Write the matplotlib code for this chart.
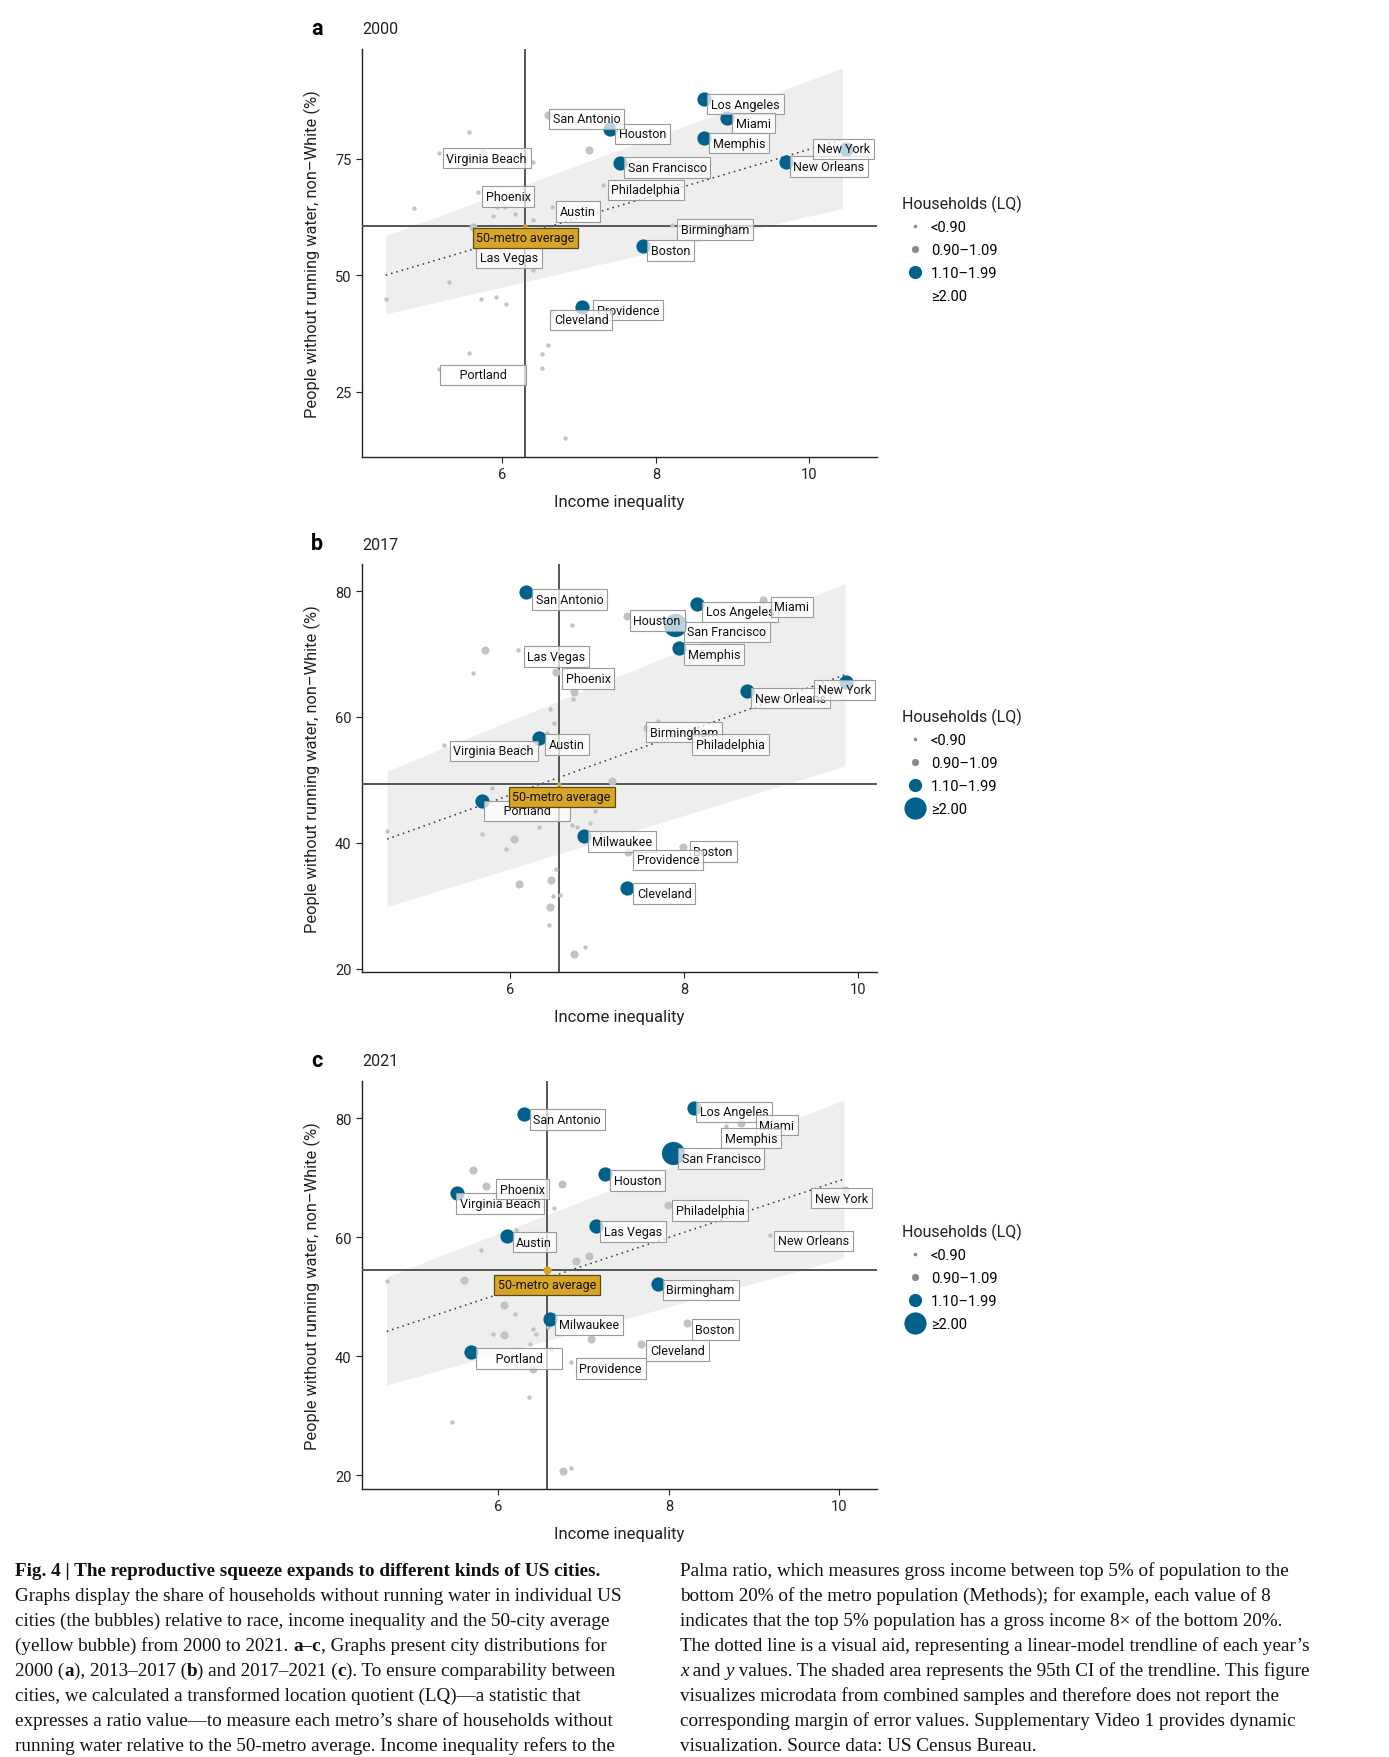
import matplotlib.pyplot as plt
from matplotlib.lines import Line2D

plt.rcParams['font.family'] = ['Roboto', 'DejaVu Sans']

W, H = 1389, 1758

# ---- data: panel a, 2000 ----
a_city = ['Los Angeles', 'Miami', 'Houston', 'Memphis', 'San Francisco', 'New Orleans',
          'New York', 'Boston', 'Providence', 'San Antonio', 'Virginia Beach', 'Philadelphia',
          'Phoenix', 'Austin', 'Birmingham', 'Las Vegas', 'Cleveland', 'Portland']
a_x = [8.62, 8.93, 7.40, 8.63, 7.53, 9.69, 10.48, 7.83, 7.04, 6.59, 5.17, 7.31,
       5.68, 6.64, 8.21, 5.70, 6.64, 5.17]
a_y = [87.7, 83.8, 81.4, 79.5, 74.1, 74.2, 77.0, 56.3, 43.2, 84.3, 76.2, 69.3,
       67.9, 64.7, 60.8, 55.6, 42.0, 29.8]
a_lq = [2, 2, 2, 2, 2, 2, 2, 2, 2, 1, 0, 0, 0, 0, 0, 0, 0, 0]
a_other_x = [7.13, 5.75, 5.62, 5.56, 5.41, 6.40, 4.85, 5.93, 6.03, 5.88, 6.16, 6.40, 6.40,
             5.31, 4.48, 5.72, 5.91, 6.04, 6.59, 6.51, 5.57, 6.52, 6.81]
a_other_y = [76.9, 76.1, 60.4, 80.8, 73.4, 74.3, 64.5, 64.7, 64.7, 62.7, 63.1, 61.9, 51.0,
             48.5, 44.9, 44.9, 45.3, 43.8, 35.1, 33.1, 33.4, 30.0, 15.0]
a_other_lq = [1, 1, 1] + [0] * 20
a_avg = [6.30, 60.6]
a_trend_x = [4.48, 10.43]
a_trend_y = [50.0, 79.1]
a_ci_lo = [41.7, 64.3]
a_ci_hi = [58.5, 94.4]

# ---- data: panel b, 2013-2017 ----
b_city = ['San Antonio', 'Los Angeles', 'Memphis', 'New Orleans', 'New York', 'Austin',
          'Portland', 'Milwaukee', 'Cleveland', 'San Francisco', 'Houston', 'Miami',
          'Phoenix', 'Birmingham', 'Boston', 'Providence', 'Las Vegas', 'Virginia Beach',
          'Philadelphia']
b_x = [6.19, 8.15, 7.94, 8.73, 9.86, 6.34, 5.68, 6.85, 7.35, 7.90, 7.35, 8.91,
       6.53, 7.58, 7.99, 7.36, 6.09, 5.24, 7.70]
b_y = [79.9, 77.9, 70.9, 64.2, 65.6, 56.6, 46.6, 41.1, 32.9, 74.6, 76.1, 78.6,
       67.1, 58.3, 39.4, 38.5, 70.6, 55.5, 59.3]
b_lq = [2, 2, 2, 2, 2, 2, 2, 2, 2, 3, 1, 1, 1, 1, 1, 1, 0, 0, 0]
b_other_x = [5.71, 6.74, 7.17, 6.05, 6.11, 6.47, 6.46, 6.74,
             6.71, 5.58, 6.73, 6.46, 6.51, 6.43, 5.80, 6.98, 6.92, 6.71, 6.77, 6.34,
             4.59, 5.68, 5.95, 6.53, 6.50, 6.58, 6.45, 6.86]
b_other_y = [70.6, 64.0, 49.8, 40.7, 33.5, 34.1, 29.9, 22.4,
             74.6, 67.0, 62.9, 61.3, 59.1, 57.5, 48.7, 45.1, 43.2, 42.8, 42.5, 42.6,
             41.9, 41.4, 39.0, 35.8, 31.6, 31.8, 27.0, 23.4]
b_other_lq = [1] * 8 + [0] * 20
b_avg = [6.56, 49.3]
b_trend_x = [4.59, 9.85]
b_trend_y = [40.6, 66.7]
b_ci_lo = [29.9, 52.2]
b_ci_hi = [51.4, 81.2]

# ---- data: panel c, 2017-2021 ----
c_city = ['San Antonio', 'Los Angeles', 'Houston', 'Virginia Beach', 'Las Vegas', 'Austin',
          'Birmingham', 'Milwaukee', 'Portland', 'San Francisco', 'Miami', 'Philadelphia',
          'New York', 'Cleveland', 'Boston', 'Phoenix', 'Memphis', 'New Orleans', 'Providence']
c_x = [6.30, 8.29, 7.25, 5.52, 7.15, 6.10, 7.87, 6.61, 5.68, 8.05, 8.85, 7.99,
       10.06, 7.67, 8.21, 5.85, 8.67, 9.18, 6.85]
c_y = [80.8, 81.8, 70.6, 67.4, 62.0, 60.2, 52.2, 46.3, 40.7, 74.2, 79.3, 65.5,
       67.9, 42.1, 45.6, 68.6, 78.7, 60.4, 39.0]
c_lq = [2, 2, 2, 2, 2, 2, 2, 2, 2, 3, 1, 1, 1, 1, 1, 1, 0, 0, 0]
c_other_x = [5.70, 6.74, 6.91, 7.06, 5.60, 6.07, 6.06, 7.08, 6.40, 6.76,
             6.65, 6.21, 5.79, 4.69, 6.20, 6.58, 5.94, 6.40, 6.44, 6.37, 6.62, 6.21,
             6.36, 5.46, 6.85]
c_other_y = [71.4, 69.0, 56.0, 56.8, 52.9, 48.6, 43.6, 42.9, 37.9, 20.7,
             64.9, 61.2, 57.9, 52.7, 47.2, 45.0, 43.7, 44.6, 43.8, 42.1, 41.2, 38.3,
             33.2, 29.0, 21.3]
c_other_lq = [1] * 10 + [0] * 15
c_avg = [6.57, 54.5]
c_trend_x = [4.69, 10.05]
c_trend_y = [44.2, 69.8]
c_ci_lo = [35.2, 56.5]
c_ci_hi = [53.4, 83.1]

lq_labels = ['<0.90', '0.90\u20131.09', '1.10\u20131.99', '\u22652.00']

# ---- layout / style ----
BLUE = '#00628a'
GREY = '#c2c2c2'
GOLD = '#d9a527'
sizes = [10, 34, 105, 280]
pt_colors = [GREY, GREY, BLUE, BLUE]

# label boxes: left edge / centre in data units
labels_a = {'San Antonio': (6.63, 83.5), 'Houston': (7.49, 80.3), 'Los Angeles': (8.69, 86.7),
            'Miami': (9.01, 82.6), 'Memphis': (8.71, 78.3), 'New York': (10.07, 77.1),
            'New Orleans': (9.76, 73.3), 'Virginia Beach': (5.24, 75.1),
            'San Francisco': (7.60, 73.1), 'Philadelphia': (7.39, 68.3),
            'Phoenix': (5.75, 66.9), 'Austin': (6.72, 63.7), 'Birmingham': (8.29, 59.8),
            'Las Vegas': (5.68, 53.8), 'Boston': (7.90, 55.3), 'Providence': (7.20, 42.5),
            'Cleveland': (6.64, 40.4), 'Portland': (5.21, 28.6)}
labels_b = {'San Antonio': (6.27, 78.7), 'Los Angeles': (8.22, 76.7), 'Miami': (9.01, 77.5),
            'Houston': (7.39, 75.3), 'San Francisco': (8.01, 73.5), 'Memphis': (8.02, 69.9),
            'Las Vegas': (6.17, 69.6), 'Phoenix': (6.61, 66.1), 'New York': (9.51, 64.3),
            'New Orleans': (8.79, 63.0), 'Birmingham': (7.58, 57.6),
            'Philadelphia': (8.11, 55.6), 'Virginia Beach': (5.32, 54.6),
            'Austin': (6.42, 55.6), 'Portland': (5.72, 45.1), 'Milwaukee': (6.91, 40.2),
            'Boston': (8.08, 38.6), 'Providence': (7.43, 37.3), 'Cleveland': (7.43, 32.0)}
labels_c = {'San Antonio': (6.38, 79.8), 'Los Angeles': (8.33, 81.1), 'Miami': (9.03, 78.9),
            'Memphis': (8.63, 76.7), 'San Francisco': (8.12, 73.3), 'Houston': (7.32, 69.6),
            'Phoenix': (5.99, 68.1), 'Virginia Beach': (5.52, 65.7), 'New York': (9.68, 66.6),
            'Philadelphia': (8.05, 64.5), 'Las Vegas': (7.21, 61.0), 'Austin': (6.18, 59.2),
            'New Orleans': (9.25, 59.4), 'Birmingham': (7.94, 51.2), 'Milwaukee': (6.68, 45.3),
            'Boston': (8.28, 44.5), 'Cleveland': (7.75, 41.0), 'Portland': (5.75, 39.6),
            'Providence': (6.92, 38.0)}
avg_label = {'a': (5.63, 58.0), 'b': (6.00, 47.3), 'c': (5.96, 52.0)}

fig = plt.figure(figsize=(W / 100, H / 100), dpi=100)
cap = fig.add_axes([0, 0, 1, 1])
cap.axis('off')


def panel(key, top, year, city, xs, ys, lq, ox, oy, olq, avg, avg_lq,
          tx, ty, lo, hi, xlim, ylim, yticks, labels, leg_top, show_big):
    ax = fig.add_axes([362 / W, 1 - (top + 408) / H, 515 / W, 408 / H])
    ax.fill_between(tx, lo, hi, color='#eeeeee', lw=0, zorder=1)
    ax.plot(tx, ty, color='#333333', lw=1.1, ls=(0, (1, 2.6)), zorder=2)
    ax.axvline(avg[0], color='#555555', lw=1.4, zorder=3)
    ax.axhline(avg[1], color='#555555', lw=1.4, zorder=3)

    allx = ox + xs
    ally = oy + ys
    alllq = olq + lq
    for cat in range(4):
        px = [x for x, c in zip(allx, alllq) if c == cat]
        py = [y for y, c in zip(ally, alllq) if c == cat]
        if px:
            ax.scatter(px, py, s=sizes[cat], color=pt_colors[cat], lw=0, zorder=4 + cat * 0.1)
    ax.scatter([avg[0]], [avg[1]], s=sizes[avg_lq], color=GOLD, lw=0, zorder=5)

    box = dict(boxstyle='square,pad=0.3', fc=(1, 1, 1, 0.72), ec='#9a9a9a', lw=0.8)
    for name in city:
        lx, ly = labels[name]
        txt = '     ' + name + '     ' if name == 'Portland' else name
        ax.text(lx + 0.03, ly, txt, fontsize=9, ha='left', va='center', color='#111111',
                bbox=box, zorder=6)
    lx, ly = avg_label[key]
    ax.text(lx + 0.03, ly, '50-metro average', fontsize=9, ha='left', va='center',
            color='#111111', zorder=6,
            bbox=dict(boxstyle='square,pad=0.3', fc=GOLD, ec='#5a4a18', lw=0.9))

    ax.set_xlim(xlim)
    ax.set_ylim(ylim)
    ax.set_xticks([6, 8, 10])
    ax.set_yticks(yticks)
    for s in ['top', 'right']:
        ax.spines[s].set_visible(False)
    for s in ['left', 'bottom']:
        ax.spines[s].set_color('#222222')
        ax.spines[s].set_linewidth(1.0)
    ax.tick_params(labelsize=10.5, length=4, width=0.8, color='#222222', labelcolor='#222222')
    ax.set_xlabel('Income inequality', fontsize=12, labelpad=9, color='#222222')
    ax.set_ylabel('People without running water, non\u2013White (%)', fontsize=11.8,
                  labelpad=10, color='#222222')

    fig.text(311 / W, 1 - (top - 21) / H, key, fontsize=15.5, fontweight='bold', va='center')
    fig.text(362 / W, 1 - (top - 20) / H, year, fontsize=11.5, va='center', color='#222222')

    # legend
    fig.text(902 / W, 1 - leg_top / H, 'Households (LQ)', fontsize=11.5, va='center',
             color='#222222')
    ms = [2.6, 5.2, 9.5, 16]
    cols = ['#8a8a8a', '#8a8a8a', BLUE, BLUE if show_big else 'none']
    handles = [Line2D([], [], ls='none', marker='o', markersize=ms[i], color=cols[i],
                      markeredgewidth=0) for i in range(4)]
    ax.legend(handles, lq_labels, loc='upper left', frameon=False, fontsize=10.5,
              bbox_to_anchor=(906 / W, 1 - (leg_top + 17) / H), bbox_transform=fig.transFigure,
              borderpad=0, handlelength=1.2, handletextpad=0.5, labelspacing=0.62,
              borderaxespad=0)
    return ax


panel('a', 50, '2000', a_city, a_x, a_y, a_lq, a_other_x, a_other_y, a_other_lq, a_avg, 0,
      a_trend_x, a_trend_y, a_ci_lo, a_ci_hi, (4.17, 10.88), (11, 98.5), [25, 50, 75],
      labels_a, 204, False)
panel('b', 565, '2017', b_city, b_x, b_y, b_lq, b_other_x, b_other_y, b_other_lq, b_avg, 0,
      b_trend_x, b_trend_y, b_ci_lo, b_ci_hi, (4.30, 10.22), (19.5, 84.3), [20, 40, 60, 80],
      labels_b, 717, True)
panel('c', 1082, '2021', c_city, c_x, c_y, c_lq, c_other_x, c_other_y, c_other_lq, c_avg, 1,
      c_trend_x, c_trend_y, c_ci_lo, c_ci_hi, (4.40, 10.44), (17.7, 86.3), [20, 40, 60, 80],
      labels_c, 1232, True)

# ---- caption ----
left_col = [
    [('Fig. 4 | The reproductive squeeze expands to different kinds of US cities.', 'bold', 'normal')],
    [('Graphs display the share of households without running water in individual US', 'normal', 'normal')],
    [('cities (the bubbles) relative to race, income inequality and the 50-city average', 'normal', 'normal')],
    [('(yellow bubble) from 2000 to 2021. ', 'normal', 'normal'), ('a\u2013c', 'bold', 'normal'),
     (', Graphs present city distributions for', 'normal', 'normal')],
    [('2000 (', 'normal', 'normal'), ('a', 'bold', 'normal'), ('), 2013\u20132017 (', 'normal', 'normal'),
     ('b', 'bold', 'normal'), (') and 2017\u20132021 (', 'normal', 'normal'), ('c', 'bold', 'normal'),
     ('). To ensure comparability between', 'normal', 'normal')],
    [('cities, we calculated a transformed location quotient (LQ)\u2014a statistic that', 'normal', 'normal')],
    [('expresses a ratio value\u2014to measure each metro\u2019s share of households without', 'normal', 'normal')],
    [('running water relative to the 50-metro average. Income inequality refers to the', 'normal', 'normal')],
]
right_col = [
    [('Palma ratio, which measures gross income between top 5% of population to the', 'normal', 'normal')],
    [('bottom 20% of the metro population (Methods); for example, each value of 8', 'normal', 'normal')],
    [('indicates that the top 5% population has a gross income 8\u00d7 of the bottom 20%.', 'normal', 'normal')],
    [('The dotted line is a visual aid, representing a linear-model trendline of each year\u2019s', 'normal', 'normal')],
    [('x', 'normal', 'italic'), (' and ', 'normal', 'normal'), ('y', 'normal', 'italic'),
     (' values. The shaded area represents the 95th CI of the trendline. This figure', 'normal', 'normal')],
    [('visualizes microdata from combined samples and therefore does not report the', 'normal', 'normal')],
    [('corresponding margin of error values. Supplementary Video 1 provides dynamic', 'normal', 'normal')],
    [('visualization. Source data: US Census Bureau.', 'normal', 'normal')],
]


def rich_line(x, y, parts):
    t = None
    for s, w, st in parts:
        kw = dict(fontsize=13.8, family='Liberation Serif', fontweight=w, fontstyle=st,
                  color='#111111')
        if t is None:
            t = cap.text(x, y, s, transform=fig.transFigure, va='bottom', ha='left', **kw)
        else:
            t = cap.annotate(s, xy=(1, 0), xycoords=t, va='bottom', ha='left', **kw)


for i, parts in enumerate(left_col):
    rich_line(15 / W, 1 - (1580 + 25 * i) / H, parts)
for i, parts in enumerate(right_col):
    rich_line(680 / W, 1 - (1580 + 25 * i) / H, parts)

fig.savefig('out.png', dpi=100)
